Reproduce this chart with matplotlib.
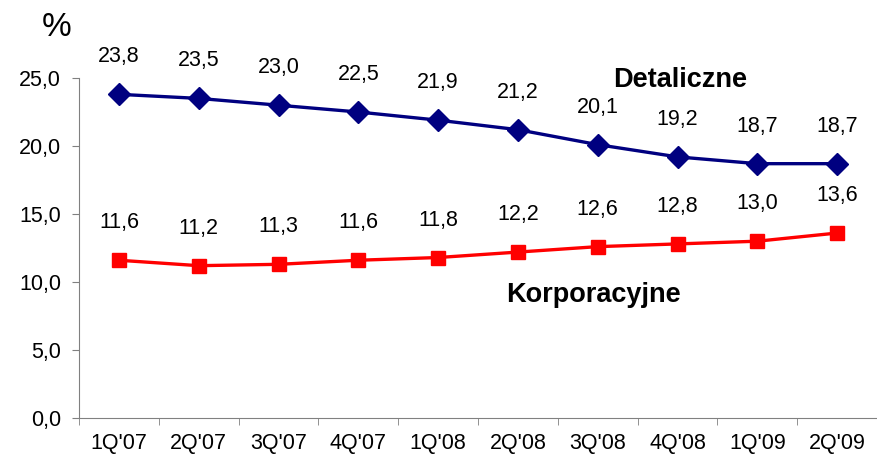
import matplotlib.pyplot as plt

plt.rcParams['font.family'] = ['Liberation Sans', 'DejaVu Sans']

quarters = ["1Q'07", "2Q'07", "3Q'07", "4Q'07", "1Q'08", "2Q'08", "3Q'08", "4Q'08", "1Q'09", "2Q'09"]
detaliczne = [23.8, 23.5, 23.0, 22.5, 21.9, 21.2, 20.1, 19.2, 18.7, 18.7]
korporacyjne = [11.6, 11.2, 11.3, 11.6, 11.8, 12.2, 12.6, 12.8, 13.0, 13.6]
yticks = [0, 5, 10, 15, 20, 25]

fig = plt.figure(figsize=(8.77, 4.59), dpi=100)
ax = fig.add_axes([79 / 877, 1 - 418 / 459, 1 - 79 / 877, (418 - 78) / 459])

x = range(len(quarters))
ax.plot(x, detaliczne, color='#000080', lw=2.4, marker='D', ms=11, clip_on=False)
ax.plot(x, korporacyjne, color='#FF0000', lw=2.4, marker='s', ms=10, clip_on=False)

# value labels above the points
for i, v in enumerate(detaliczne):
    ax.annotate(f"{v:.1f}".replace('.', ','), (i, v), xytext=(0, 27), textcoords='offset points',
                ha='center', va='center', fontsize=15.5)
for i, v in enumerate(korporacyjne):
    ax.annotate(f"{v:.1f}".replace('.', ','), (i, v), xytext=(0, 27), textcoords='offset points',
                ha='center', va='center', fontsize=15.5)

ax.set_xlim(-0.5, len(quarters) - 0.5)
ax.set_ylim(0, 25)
ax.set_yticks(yticks)
ax.set_yticklabels([f"{t:.1f}".replace('.', ',') for t in yticks], fontsize=15.5)
ax.set_xticks(list(x))
ax.set_xticklabels(quarters, fontsize=15.5)
ax.set_xticks([i + 0.5 for i in range(-1, len(quarters))], minor=True)
ax.tick_params(axis='x', which='major', length=0, pad=11)
ax.tick_params(axis='x', which='minor', length=5, color='#808080')
ax.tick_params(axis='y', length=5, color='#808080', pad=8)

for s in ['top', 'right']:
    ax.spines[s].set_visible(False)
for s in ['left', 'bottom']:
    ax.spines[s].set_color('#808080')

fig.text(680 / 877, 1 - 80 / 459, 'Detaliczne', ha='center', va='center', fontsize=19.5, fontweight='bold')
fig.text(593 / 877, 1 - 295 / 459, 'Korporacyjne', ha='center', va='center', fontsize=19.5, fontweight='bold')
fig.text(57 / 877, 1 - 28 / 459, '%', ha='center', va='center', fontsize=24)

fig.savefig('out.png', dpi=100)
